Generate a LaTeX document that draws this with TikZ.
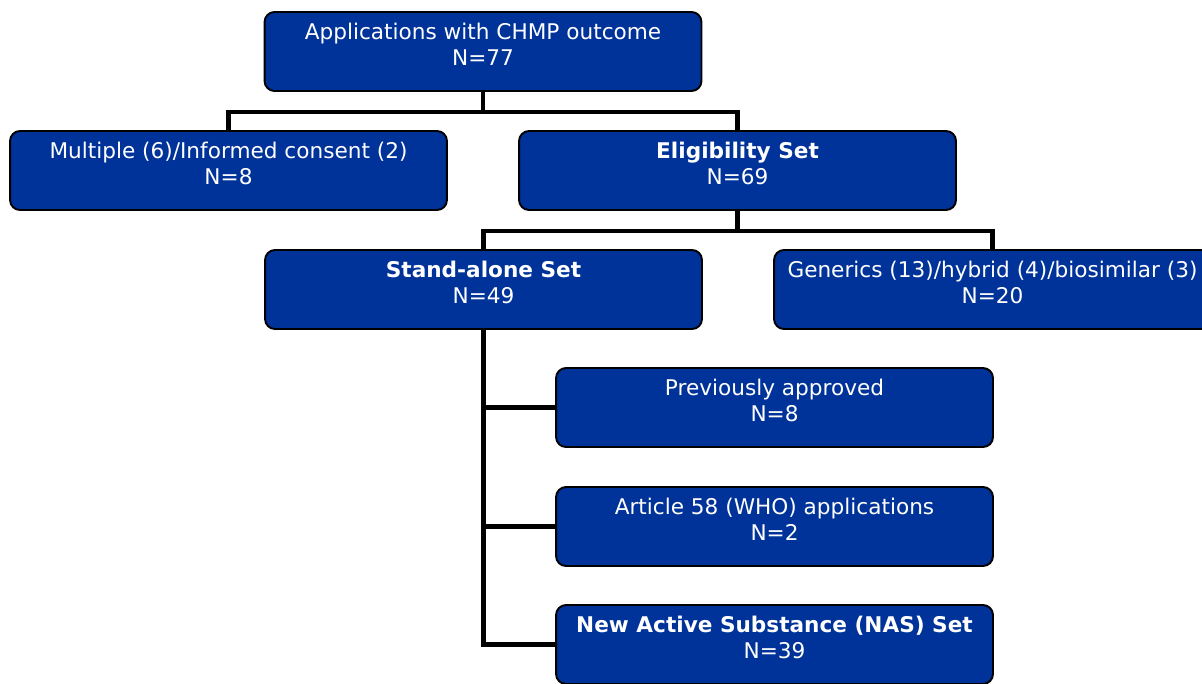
\documentclass[tikz,border=0pt]{standalone}
\usepackage{fontspec}
\setmainfont{DejaVu Sans}
\usetikzlibrary{backgrounds}
\definecolor{boxblue}{RGB}{0,51,153}
\tikzset{
  boxnode/.style={draw=black, line width=1.1pt, fill=boxblue, rounded corners=0.2cm,
    minimum width=8.74cm, minimum height=1.58cm, inner sep=0pt},
  txt/.style={text=white, align=center, font=\fontsize{12.3}{14.8}\selectfont, inner sep=0pt, yshift=0.14cm},
  conn/.style={draw=black, line width=2.4pt}
}
\begin{document}
\begin{tikzpicture}[x=0.02cm,y=-0.02cm]
\useasboundingbox (0,0) rectangle (1202,683);
\clip (0,0) rectangle (1202,683);
\node[boxnode, label={[txt]center:Applications with CHMP outcome\\N=77}] (top) at (483,51.5) {};
\node[boxnode, label={[txt]center:Multiple (6)/Informed consent (2)\\N=8}] (mult) at (228.5,170.5) {};
\node[boxnode, label={[txt]center:\textbf{Eligibility Set}\\N=69}] (elig) at (737.5,170.5) {};
\node[boxnode, label={[txt]center:\textbf{Stand-alone Set}\\N=49}] (stand) at (483.5,289.5) {};
\node[boxnode, label={[txt]center:Generics (13)/hybrid (4)/biosimilar (3)\\N=20}] (gen) at (992.5,289.5) {};
\node[boxnode, label={[txt]center:Previously approved\\N=8}] (prev) at (774.5,407.5) {};
\node[boxnode, label={[txt]center:Article 58 (WHO) applications\\N=2}] (art) at (774.5,526.5) {};
\node[boxnode, label={[txt]center:\textbf{New Active Substance (NAS) Set}\\N=39}] (nas) at (774.5,644.5) {};
\begin{pgfonlayer}{background}
\draw[conn] (top.south) -- ++(0,20) -| (mult.north);
\draw[conn] (top.south) ++(0,20) -| (elig.north);
\draw[conn] (elig.south) -- ++(0,20) -| (stand.north);
\draw[conn] (elig.south) ++(0,20) -| (gen.north);
\draw[conn] (stand.south) |- (prev.west);
\draw[conn] (stand.south) |- (art.west);
\draw[conn] (stand.south) |- (nas.west);
\end{pgfonlayer}
\end{tikzpicture}
\end{document}
